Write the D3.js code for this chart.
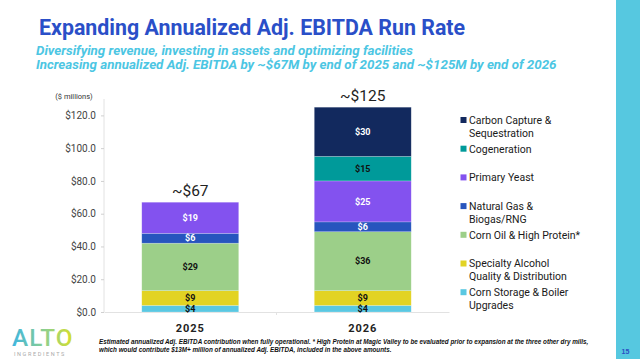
<!DOCTYPE html>
<html><head><meta charset="utf-8">
<script src="https://cdn.jsdelivr.net/npm/d3@7"></script>
<style>html,body{margin:0;padding:0;background:#fff;overflow:hidden}svg{display:block}</style>
</head><body>
<svg id="c" width="640" height="359"></svg>
<script>
// ---- data ----
const years = ["2025", "2026"];
const seriesNames = ["Corn Storage & Boiler Upgrades", "Specialty Alcohol Quality & Distribution", "Corn Oil & High Protein*", "Natural Gas & Biogas/RNG", "Primary Yeast", "Cogeneration", "Carbon Capture & Sequestration"];
const legendLines = [["Corn Storage & Boiler", "Upgrades"], ["Specialty Alcohol", "Quality & Distribution"], ["Corn Oil & High Protein*"], ["Natural Gas &", "Biogas/RNG"], ["Primary Yeast"], ["Cogeneration"], ["Carbon Capture &", "Sequestration"]];
const cornStorage = [4, 4];
const specialtyAlcohol = [9, 9];
const cornOil = [29, 36];
const naturalGas = [6, 6];
const primaryYeast = [19, 25];
const cogeneration = [0, 15];
const carbonCapture = [0, 30];
const totalLabels = ["~$67", "~$125"];
const yTicks = [0, 20, 40, 60, 80, 100, 120];
const colors = ["#5ac8e2", "#e2d323", "#9ccf89", "#2755be", "#8352ef", "#009a9a", "#12295e"];
const labelColors = ["#111", "#111", "#111", "#fff", "#fff", "#111", "#fff"];

const seriesValues = [cornStorage, specialtyAlcohol, cornOil, naturalGas, primaryYeast, cogeneration, carbonCapture];
const table = years.map((y, i) => {
  const row = {year: y};
  seriesNames.forEach((s, k) => row[s] = seriesValues[k][i]);
  return row;
});

const svg = d3.select("#c");

// fit font size so the text spans a target width
function fit(sel, target) {
  const fs = +sel.attr("font-size");
  const w = sel.node().getComputedTextLength();
  if (w > 0) sel.attr("font-size", (fs * target / w).toFixed(2));
  return sel;
}

// right band
svg.append("rect").attr("x", 616).attr("y", 0).attr("width", 24).attr("height", 359).attr("fill", "#56c8e0");
svg.append("text").attr("x", 625.5).attr("y", 354).attr("text-anchor", "middle")
  .attr("font-family", "Liberation Sans, Arial").attr("font-size", 7).attr("font-weight", "bold").attr("fill", "#2a4fc4").text("15");

// titles
fit(svg.append("text").attr("x", 39).attr("y", 35).attr("font-family", "Roboto").attr("font-weight", "bold")
  .attr("font-size", 20).attr("fill", "#2a4fc8")
  .text("Expanding Annualized Adj. EBITDA Run Rate"), 426);
fit(svg.append("text").attr("x", 36).attr("y", 55).attr("font-family", "Roboto").attr("font-weight", "bold").attr("font-style", "italic")
  .attr("font-size", 12.5).attr("fill", "#4cc6e3")
  .text("Diversifying revenue, investing in assets and optimizing facilities"), 377);
fit(svg.append("text").attr("x", 36).attr("y", 68.5).attr("font-family", "Roboto").attr("font-weight", "bold").attr("font-style", "italic")
  .attr("font-size", 12.5).attr("fill", "#4cc6e3")
  .text("Increasing annualized Adj. EBITDA by ~$67M by end of 2025 and ~$125M by end of 2026"), 521);

// scales
const x = d3.scaleBand().domain(years).range([104, 449]).paddingInner(0.438).paddingOuter(0.219);
const y = d3.scaleLinear().domain([0, 130]).range([312, 99]);

// y axis
const yAxis = svg.append("g").attr("transform", "translate(104,0)")
  .call(d3.axisLeft(y).tickValues(yTicks).tickFormat(d => "$" + d3.format(".1f")(d)).tickSize(3).tickPadding(5));
yAxis.select(".domain").attr("stroke", "#e2e2e2").attr("d", `M0,${y(130)}V${y(0)}`);
yAxis.selectAll(".tick line").attr("stroke", "#d0d0d0");
yAxis.selectAll(".tick text").attr("font-family", "Roboto").attr("font-size", 10).attr("fill", "#444");

svg.append("text").attr("x", 74).attr("y", 98.5).attr("text-anchor", "middle").attr("font-family", "Roboto")
  .attr("font-size", 7.5).attr("fill", "#333").text("($ millions)");

// x axis
const xAxis = svg.append("g").attr("transform", `translate(0,${y(0)})`)
  .call(d3.axisBottom(x).tickSize(0).tickPadding(12));
xAxis.select(".domain").attr("stroke", "#e2e2e2");
xAxis.selectAll(".tick text").attr("font-family", "Roboto").attr("font-weight", "bold").attr("font-size", 11)
  .attr("letter-spacing", 1).attr("fill", "#222");
const midX = x.range()[0] + x.step();
svg.append("line").attr("x1", midX).attr("x2", midX)
  .attr("y1", y(0)).attr("y2", y(0) + 3).attr("stroke", "#e2e2e2");

// stacked bars
const stack = d3.stack().keys(seriesNames)(table);
const layers = svg.append("g").selectAll("g").data(stack).join("g").attr("fill", (d, i) => colors[i]);
layers.selectAll("rect").data(d => d.filter(p => p[1] - p[0] > 0)).join("rect")
  .attr("x", d => x(d.data.year)).attr("width", x.bandwidth())
  .attr("y", d => y(d[1])).attr("height", d => y(d[0]) - y(d[1]))
  .attr("stroke", "#ffffff").attr("stroke-opacity", 0.35).attr("stroke-width", 0.6);

stack.forEach((layer, i) => {
  svg.append("g").selectAll("text").data(layer.filter(p => p[1] - p[0] > 0)).join("text")
    .attr("x", d => x(d.data.year) + x.bandwidth() / 2)
    .attr("y", d => (y(d[0]) + y(d[1])) / 2 + 3.2)
    .attr("text-anchor", "middle").attr("font-family", "Roboto").attr("font-weight", "bold")
    .attr("font-size", 9).attr("fill", labelColors[i])
    .text(d => "$" + (d[1] - d[0]));
});

// totals
const totals = table.map(r => seriesNames.reduce((a, s) => a + r[s], 0));
svg.append("g").selectAll("text").data(years).join("text")
  .attr("x", d => x(d) + x.bandwidth() / 2).attr("y", (d, i) => y(totals[i]) - 6)
  .attr("text-anchor", "middle").attr("font-family", "Roboto").attr("font-size", 15.5).attr("fill", "#222")
  .text((d, i) => totalLabels[i]);

// legend (top series first)
const legendOrder = d3.range(seriesNames.length).reverse();
const lg = svg.append("g");
legendOrder.forEach((k, j) => {
  const cy = 120 + j * 28.7;
  lg.append("rect").attr("x", 460.5).attr("y", cy - 3).attr("width", 6).attr("height", 6).attr("fill", colors[k]);
  legendLines[k].forEach((line, li) => {
    lg.append("text").attr("x", 469).attr("y", cy + 3.8 + li * 12.7).attr("font-family", "Roboto")
      .attr("font-size", 10.5).attr("fill", "#1a1a1a").text(line);
  });
});

// footer
const f1 = svg.append("text").attr("x", 99).attr("y", 343.5).attr("font-family", "Liberation Sans, Arial").attr("font-weight", "bold")
  .attr("font-style", "italic").attr("font-size", 7).attr("fill", "#111")
  .text("Estimated annualized Adj. EBITDA contribution when fully operational. * High Protein at Magic Valley to be evaluated prior to expansion at the three other dry mills,");
fit(f1, 490);
svg.append("text").attr("x", 99).attr("y", 351.5).attr("font-family", "Liberation Sans, Arial").attr("font-weight", "bold")
  .attr("font-style", "italic").attr("font-size", f1.attr("font-size")).attr("fill", "#111")
  .text("which would contribute $13M+ million of annualized Adj. EBITDA, included in the above amounts.");

// logo
const defs = svg.append("defs");
const grad = defs.append("linearGradient").attr("id", "lg").attr("x1", "0").attr("x2", "1");
grad.append("stop").attr("offset", "0").attr("stop-color", "#3fb6e0");
grad.append("stop").attr("offset", "0.55").attr("stop-color", "#8fd08a");
grad.append("stop").attr("offset", "1").attr("stop-color", "#d7df2a");
fit(svg.append("text").attr("x", 12).attr("y", 346).attr("font-family", "Roboto").attr("font-weight", 500)
  .attr("font-size", 22).attr("fill", "url(#lg)").attr("letter-spacing", 1).text("ALTO"), 62);
svg.append("text").attr("x", 14).attr("y", 355.5).attr("font-family", "Roboto").attr("font-size", 5.5)
  .attr("fill", "#aaa").attr("letter-spacing", 1.6).text("INGREDIENTS");
</script>
</body></html>
